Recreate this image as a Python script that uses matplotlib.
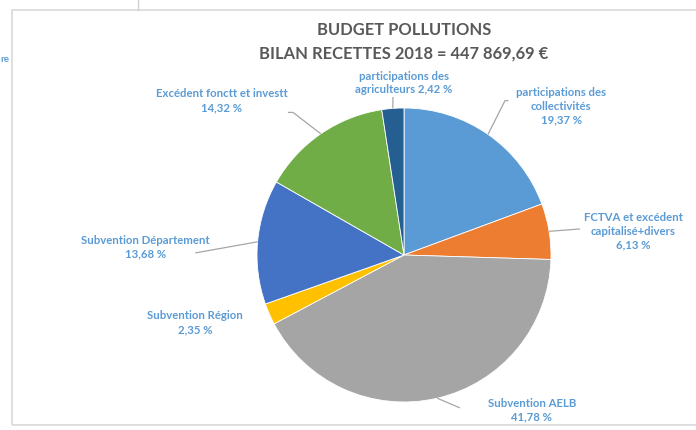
import numpy as np
import matplotlib
matplotlib.use("Agg")
import matplotlib.pyplot as plt
from matplotlib.patches import Rectangle
from matplotlib.lines import Line2D

# Budget data (share of total receipts, %)
categories = [
    "participations des\ncollectivités",
    "FCTVA et excédent\ncapitalisé+divers",
    "Subvention AELB",
    "Subvention Région",
    "Subvention Département",
    "Excédent fonctt et investt",
    "participations des\nagriculteurs",
]
shares = [19.37, 6.13, 41.78, 2.35, 13.68, 14.32, 2.42]
share_text = ["19,37 %", "6,13 %", "41,78 %", "2,35 %", "13,68 %", "14,32 %", "2,42 %"]
colors = ["#5B9BD5", "#ED7D31", "#A5A5A5", "#FFC000", "#4472C4", "#70AD47", "#255E91"]

title_lines = ["BUDGET POLLUTIONS", "BILAN RECETTES 2018 = 447 869,69 €"]

# label layout (axes data units, pie radius = 1)
label_pos = [(1.07, 1.01), (1.56, 0.16), (0.87, -1.055), (-1.42, -0.46),
             (-1.76, 0.055), (-1.24, 1.05), (0.0, 1.17)]
label_sep = ["\n", "\n", "\n", "\n", "\n", "\n", " "]
leader_end = [[(0.687, 1.05), (0.71, 1.05)],
              [(1.197, 0.177)],
              [(0.38, -1.04)],
              None,
              [(-1.42, 0.014)],
              [(-0.755, 0.97), (-0.79, 0.97)],
              [(-0.075, 1.075)]]

W, H = 696, 430
fig = plt.figure(figsize=(W / 100, H / 100), dpi=100)
fig.patch.set_facecolor("white")

# outer chart frame and neighbouring window edge
fig.add_artist(Rectangle((12 / W, 5 / H), (W - 10) / W, (H - 15) / H,
                         transform=fig.transFigure, fill=False,
                         edgecolor="#D9D9D9", lw=1.2))
fig.add_artist(Line2D([138 / W, 138 / W], [1 - 10 / H, 1.0],
                      transform=fig.transFigure, color="#D0D0D0", lw=1))
fig.text(0 / W, 1 - 60 / H, "re", color="#5B9BD5", fontsize=7,
         family="Lato", fontweight="bold", va="center", ha="left")

cx, cy, R = 404, 255, 147
ax = fig.add_axes([(cx - R) / W, (H - cy - R) / H, 2 * R / W, 2 * R / H])

wedges, _ = ax.pie(shares, colors=colors, startangle=90, counterclock=False,
                   radius=1.0, wedgeprops=dict(linewidth=0.6, edgecolor="white"))
ax.set_xlim(-1, 1)
ax.set_ylim(-1, 1)
ax.set_aspect("equal")
ax.axis("off")

label_color = "#5B9BD5"
line_color = "#A6A6A6"
for i, w in enumerate(wedges):
    mid = np.deg2rad((w.theta1 + w.theta2) / 2)
    anchor = (np.cos(mid), np.sin(mid))
    if leader_end[i] is not None:
        pts = [anchor] + leader_end[i]
        xs, ys = zip(*pts)
        ax.plot(xs, ys, color=line_color, lw=0.9, clip_on=False,
                solid_capstyle="butt")
    txt = categories[i] + label_sep[i] + share_text[i]
    ax.text(label_pos[i][0], label_pos[i][1], txt, ha="center", va="center",
            color=label_color, fontsize=8.2, family="Lato", fontweight="bold",
            linespacing=1.3, clip_on=False)

fig.text(cx / W, 1 - 30 / H, title_lines[0], ha="center", va="center",
         fontsize=11.9, family="Lato", fontweight="bold", color="#595959")
fig.text(cx / W, 1 - 54 / H, title_lines[1], ha="center", va="center",
         fontsize=11.9, family="Lato", fontweight="bold", color="#595959")

fig.savefig("out.png", dpi=100, facecolor="white")
